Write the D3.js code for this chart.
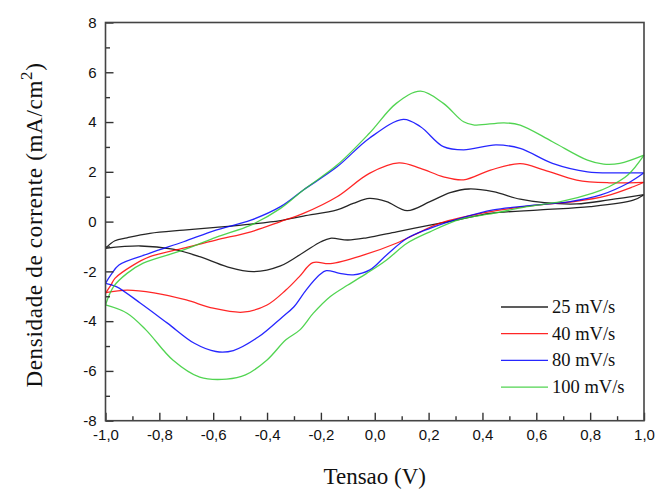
<!DOCTYPE html>
<html>
<head>
<meta charset="utf-8">
<script src="https://cdn.jsdelivr.net/npm/d3@7"></script>
<style>
  body { margin: 0; background: #fff; }
</style>
</head>
<body>
<div id="grafico"></div>
<script>
// Curvas de voltametria ciclica: [tensao (V), densidade de corrente (mA/cm2)]
// ramo anodico de -1 a 1, depois ramo catodico de 1 a -1
const curva25 = [
  [-1.00, -1.07], [-0.965, -0.77], [-0.92, -0.65], [-0.835, -0.47], [-0.71, -0.34],
  [-0.59, -0.23], [-0.46, -0.10], [-0.35, 0.04], [-0.265, 0.22], [-0.14, 0.47],
  [-0.08, 0.73], [-0.02, 0.93], [0.044, 0.80], [0.12, 0.44], [0.205, 0.80],
  [0.28, 1.16], [0.35, 1.31], [0.44, 1.20], [0.54, 0.90], [0.63, 0.76],
  [0.75, 0.71], [0.87, 0.87], [1.00, 1.08],
  [0.96, 0.86], [0.80, 0.60], [0.614, 0.47], [0.428, 0.33], [0.317, 0.09],
  [0.205, -0.14], [0.081, -0.41], [-0.03, -0.65], [-0.10, -0.74], [-0.165, -0.67],
  [-0.20, -0.81], [-0.265, -1.24], [-0.35, -1.78], [-0.45, -2.01], [-0.55, -1.81],
  [-0.65, -1.41], [-0.75, -1.11], [-0.87, -0.98], [-1.00, -1.07]
];
const curva40 = [
  [-1.00, -2.88], [-0.98, -2.55], [-0.965, -2.28], [-0.90, -1.77], [-0.835, -1.41],
  [-0.71, -1.07], [-0.59, -0.74], [-0.46, -0.41], [-0.35, 0.00], [-0.265, 0.33],
  [-0.14, 1.00], [-0.02, 1.94], [0.09, 2.36], [0.17, 2.14], [0.255, 1.80],
  [0.33, 1.68], [0.43, 2.07], [0.54, 2.33], [0.63, 2.07], [0.75, 1.67],
  [0.87, 1.56], [1.00, 1.58],
  [0.96, 1.40], [0.86, 1.03], [0.74, 0.80], [0.61, 0.67], [0.43, 0.40],
  [0.24, -0.07], [0.17, -0.41], [0.08, -0.87], [-0.04, -1.34], [-0.165, -1.69],
  [-0.23, -1.65], [-0.28, -2.21], [-0.33, -2.75], [-0.40, -3.35], [-0.49, -3.64],
  [-0.60, -3.48], [-0.70, -3.15], [-0.82, -2.86], [-0.92, -2.75], [-1.00, -2.85]
];
const curva80 = [
  [-1.00, -2.48], [-0.98, -2.14], [-0.95, -1.74], [-0.835, -1.27], [-0.71, -0.81],
  [-0.59, -0.34], [-0.46, 0.06], [-0.35, 0.60], [-0.265, 1.27], [-0.14, 2.20],
  [-0.02, 3.35], [0.106, 4.11], [0.17, 3.81], [0.255, 3.01], [0.33, 2.88],
  [0.45, 3.08], [0.54, 2.94], [0.66, 2.34], [0.79, 2.00], [0.91, 1.96],
  [1.00, 1.96],
  [0.94, 1.54], [0.84, 1.07], [0.725, 0.80], [0.565, 0.63], [0.44, 0.47],
  [0.317, 0.13], [0.205, -0.27], [0.12, -0.67], [0.044, -1.34], [-0.018, -1.94],
  [-0.08, -2.14], [-0.13, -2.08], [-0.18, -1.97], [-0.205, -2.14], [-0.255, -2.75],
  [-0.30, -3.42], [-0.345, -3.85], [-0.43, -4.62], [-0.525, -5.18], [-0.59, -5.22],
  [-0.67, -4.89], [-0.77, -4.08], [-0.87, -3.28], [-0.96, -2.61], [-1.00, -2.48]
];
const curva100 = [
  [-1.00, -3.35], [-0.97, -2.61], [-0.92, -2.08], [-0.86, -1.67], [-0.71, -1.14],
  [-0.59, -0.63], [-0.46, -0.14], [-0.35, 0.53], [-0.265, 1.27], [-0.14, 2.27],
  [-0.02, 3.55], [0.08, 4.75], [0.17, 5.24], [0.255, 4.75], [0.33, 4.01],
  [0.37, 3.88], [0.48, 3.97], [0.54, 3.88], [0.66, 3.21], [0.79, 2.47],
  [0.85, 2.31], [0.91, 2.34], [1.00, 2.67],
  [0.94, 1.87], [0.87, 1.40], [0.81, 1.14], [0.69, 0.80], [0.565, 0.60],
  [0.44, 0.33], [0.317, 0.09], [0.205, -0.41], [0.12, -0.87], [0.044, -1.54],
  [-0.03, -2.08], [-0.10, -2.55], [-0.166, -3.02], [-0.228, -3.68], [-0.278, -4.35],
  [-0.33, -4.75], [-0.40, -5.56], [-0.48, -6.16], [-0.55, -6.33], [-0.65, -6.25],
  [-0.75, -5.56], [-0.85, -4.35], [-0.92, -3.68], [-1.00, -3.35]
];

const rotulos = ['25 mV/s', '40 mV/s', '80 mV/s', '100 mV/s'];
const cores = ['#000000', '#ff0000', '#0000ff', '#33cc33'];
const curvas = [curva25, curva40, curva80, curva100];

const ticksX = [-1.0, -0.8, -0.6, -0.4, -0.2, 0.0, 0.2, 0.4, 0.6, 0.8, 1.0];
const ticksXmenor = [-0.9, -0.7, -0.5, -0.3, -0.1, 0.1, 0.3, 0.5, 0.7, 0.9];
const ticksY = [-8, -6, -4, -2, 0, 2, 4, 6, 8];
const ticksYmenor = [-7, -5, -3, -1, 1, 3, 5, 7];

// Configuracao
const largura = 656;
const altura = 489;
const margem = { topo: 22.5, direita: 12, baixo: 68.3, esquerda: 105.5 };

const local = d3.formatLocale({ decimal: ',', thousands: '.', grouping: [3], currency: ['', ''], minus: '-' });
const fmtX = local.format('.1f');
const fmtY = local.format('d');

const svg = d3.select('#grafico')
  .append('svg')
  .attr('width', largura)
  .attr('height', altura)
  .style('font-family', '"Liberation Sans", Arial, sans-serif');

const escalaX = d3.scaleLinear().domain([-1, 1]).range([margem.esquerda, largura - margem.direita]);
const escalaY = d3.scaleLinear().domain([-8, 8]).range([altura - margem.baixo, margem.topo]);

const g = svg.append('g');

// Curvas (cada ramo desenhado separado para manter os vertices em +-1 V)
const linha = d3.line()
  .x(d => escalaX(d[0]))
  .y(d => escalaY(d[1]))
  .curve(d3.curveCatmullRom.alpha(0.5));

curvas.forEach((c, i) => {
  const iv = d3.maxIndex(c, d => d[0]);
  [c.slice(0, iv + 1), c.slice(iv)].forEach(ramo => {
    g.append('path')
      .attr('d', linha(ramo))
      .attr('fill', 'none')
      .attr('stroke', cores[i])
      .attr('stroke-width', 1.3)
      .attr('stroke-opacity', 0.85);
  });
});

// Eixos
const yBase = altura - margem.baixo;
g.append('g')
  .attr('transform', `translate(0,${yBase})`)
  .call(d3.axisBottom(escalaX).tickValues(ticksX).tickFormat(fmtX)
    .tickSizeInner(-8).tickSizeOuter(0).tickPadding(9));
g.append('g')
  .attr('transform', `translate(0,${yBase})`)
  .call(d3.axisBottom(escalaX).tickValues(ticksXmenor).tickFormat('')
    .tickSizeInner(-4.5).tickSizeOuter(0));

g.append('g')
  .attr('transform', `translate(${margem.esquerda},0)`)
  .call(d3.axisLeft(escalaY).tickValues(ticksY).tickFormat(fmtY)
    .tickSizeInner(-8).tickSizeOuter(0).tickPadding(9));
g.append('g')
  .attr('transform', `translate(${margem.esquerda},0)`)
  .call(d3.axisLeft(escalaY).tickValues(ticksYmenor).tickFormat('')
    .tickSizeInner(-4.5).tickSizeOuter(0));

g.selectAll('.domain').remove();
g.selectAll('.tick line').attr('stroke', '#333').attr('stroke-width', 1.4);
g.selectAll('.tick text').attr('font-size', 15).attr('fill', '#111')
  .style('font-family', '"Liberation Sans", Arial, sans-serif');

// Moldura
g.append('rect')
  .attr('x', escalaX(-1))
  .attr('y', escalaY(8))
  .attr('width', escalaX(1) - escalaX(-1))
  .attr('height', escalaY(-8) - escalaY(8))
  .attr('fill', 'none')
  .attr('stroke', '#444')
  .attr('stroke-width', 1.6);

// Titulos dos eixos
const serif = '"Liberation Serif", "Times New Roman", serif';
svg.append('text')
  .attr('x', (escalaX(-1) + escalaX(1)) / 2)
  .attr('y', 484)
  .attr('text-anchor', 'middle')
  .style('font-family', serif)
  .style('font-size', '23px')
  .attr('fill', '#111')
  .text('Tensao (V)');

const tituloY = svg.append('text')
  .attr('transform', `translate(42,225) rotate(-90)`)
  .attr('text-anchor', 'middle')
  .style('font-family', serif)
  .style('font-size', '23px')
  .style('letter-spacing', '0.7px')
  .attr('fill', '#111');
tituloY.append('tspan').text('Densidade de corrente (mA/cm');
tituloY.append('tspan').attr('dy', -10).style('font-size', '17px').text('2');
tituloY.append('tspan').attr('dy', 10).text(')');

// Legenda
const legenda = svg.append('g').attr('transform', 'translate(501,307)');
rotulos.forEach((r, i) => {
  const item = legenda.append('g').attr('transform', `translate(0,${i * 26.7})`);
  item.append('line')
    .attr('x1', 0).attr('x2', 47)
    .attr('stroke', cores[i]).attr('stroke-width', 1.3).attr('stroke-opacity', 0.85);
  item.append('text')
    .attr('x', 51).attr('y', 6)
    .style('font-family', serif)
    .style('font-size', '18.5px')
    .attr('fill', '#111')
    .text(r);
});
</script>
</body>
</html>
